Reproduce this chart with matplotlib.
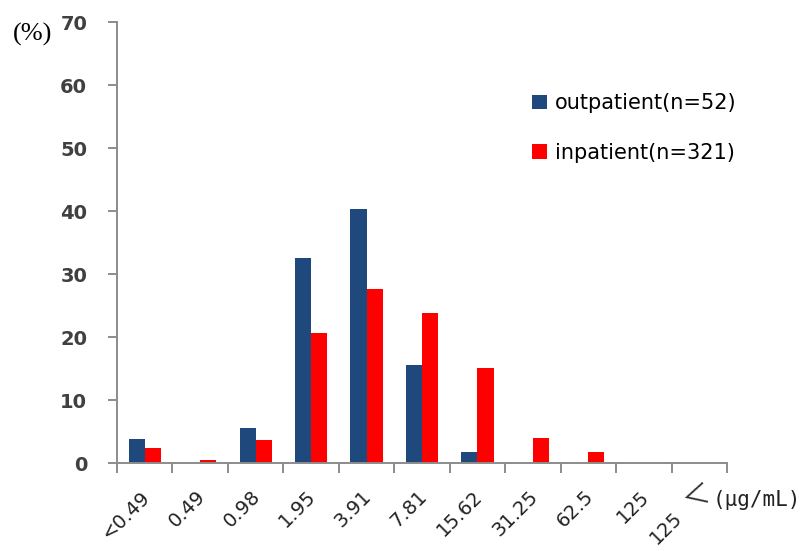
import numpy as np
import matplotlib
matplotlib.use('Agg')
import matplotlib.pyplot as plt
import matplotlib.transforms as mtransforms

# datos (%)
categorias = ['<0.49', '0.49', '0.98', '1.95', '3.91', '7.81', '15.62', '31.25', '62.5', '125', '125']
outpatient = [3.8, 0, 5.6, 32.6, 40.3, 15.5, 1.7, 0, 0, 0, 0]
inpatient = [2.4, 0.4, 3.7, 20.6, 27.6, 23.8, 15.1, 4.0, 1.8, 0, 0]

azul = '#1F497D'
rojo = '#FF0000'
gris = '#8C8C8C'

fig = plt.figure(figsize=(8.03, 5.51), dpi=100)
ax = fig.add_axes([0.1457, 0.1597, 0.7597, 0.8003])

x = np.arange(len(categorias))
ancho = 0.29
ax.bar(x - ancho / 2, outpatient, ancho, color=azul, label='outpatient(n=52)')
ax.bar(x + ancho / 2, inpatient, ancho, color=rojo, label='inpatient(n=321)')

ax.set_xlim(-0.5, len(categorias) - 0.5)
ax.set_ylim(0, 70)
ax.set_yticks(range(0, 71, 10))

ax.spines['top'].set_visible(False)
ax.spines['right'].set_visible(False)
for lado in ['left', 'bottom']:
    ax.spines[lado].set_color(gris)
    ax.spines[lado].set_linewidth(1.4)

# ticks mayores en los bordes de categoria, etiquetas en el centro
ax.set_xticks(np.arange(-0.5, len(categorias), 1.0))
ax.set_xticklabels([])
ax.set_xticks(x, minor=True)
ax.set_xticklabels(categorias, minor=True, rotation=45, ha='right', va='center',
                   rotation_mode='anchor', fontsize=14, color='#222222')
ax.tick_params(axis='x', which='major', length=7.2, width=1.4, color=gris)
ax.tick_params(axis='x', which='minor', length=0, pad=22)
ax.tick_params(axis='y', length=6.5, width=1.4, color=gris, labelsize=14,
               labelcolor='#404040', pad=15)
for t in ax.get_yticklabels():
    t.set_fontweight('bold')

etiquetas = ax.get_xticklabels(minor=True)
for t in etiquetas:
    t.set_transform(t.get_transform() + mtransforms.ScaledTranslation(2 / 100, 0, fig.dpi_scale_trans))
# la ultima etiqueta "125<" queda desplazada hacia abajo a la izquierda
etiquetas[-1].set_transform(etiquetas[-1].get_transform() +
                            mtransforms.ScaledTranslation(-22 / 100, -21 / 100, fig.dpi_scale_trans))

ax.text((694 - 117) / 609, (463 - 496) / 441, '＜', transform=ax.transAxes, fontsize=20,
        family=['Noto Sans CJK JP', 'DejaVu Sans'], rotation=15,
        ha='center', va='center', color='#333333')
fig.text(0.942, 0.0926, '(µg/mL)', fontsize=15, family='DejaVu Sans Mono',
         ha='center', va='center', color='#222222')
fig.text(0.040, 0.938, '(%)', fontsize=19, family='Liberation Serif',
         ha='center', va='center')

ax.legend(loc='upper left', bbox_to_anchor=(0.681, 0.838), frameon=False,
          fontsize=15, handlelength=0.7, handleheight=0.7, handletextpad=0.4,
          labelspacing=1.4, borderpad=0, borderaxespad=0)

fig.savefig('out.png', dpi=100)
